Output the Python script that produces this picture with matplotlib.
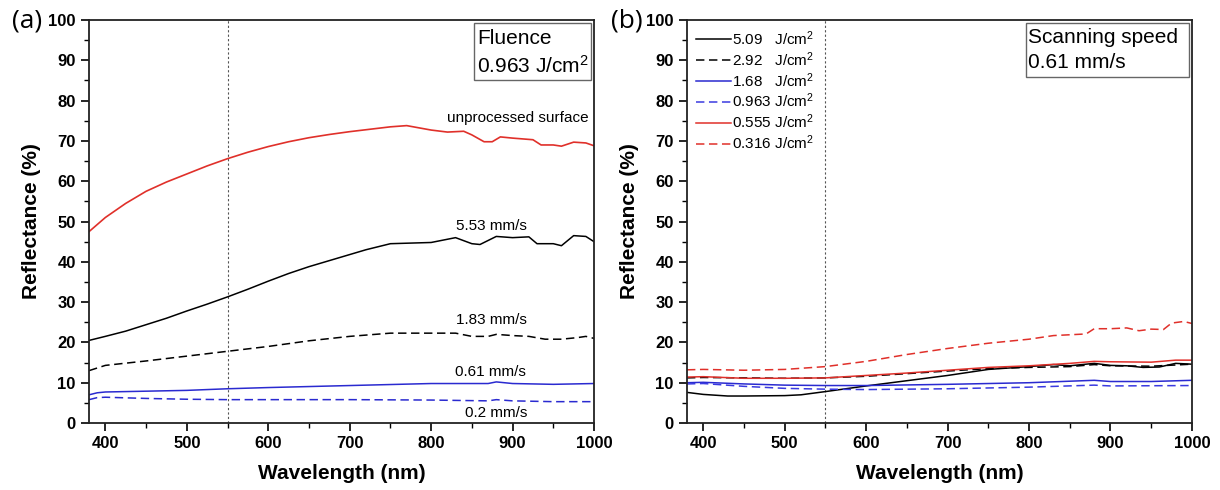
import matplotlib
matplotlib.use("Agg")
import matplotlib.pyplot as plt
from matplotlib.patches import Rectangle
from matplotlib.ticker import MultipleLocator

plt.rcParams["font.family"] = ["Liberation Sans", "DejaVu Sans"]
plt.rcParams["mathtext.default"] = "regular"

RED = "#e0302a"
BLUE = "#2a2ad0"
LBLUE = "#3a3ae0"

# ---- panel (a): fixed fluence 0.963 J/cm2, varying scanning speed ----
wl_unproc = [380, 400, 425, 450, 475, 500, 525, 550, 575, 600, 625, 650, 675, 700, 725,
             750, 770, 800, 820, 840, 850, 865, 875, 885, 900, 925, 935, 950, 960,
             975, 990, 1000]
r_unproc = [47.5, 51, 54.5, 57.5, 59.8, 61.8, 63.8, 65.6, 67.2, 68.6, 69.8, 70.8, 71.6,
            72.3, 72.9, 73.5, 73.8, 72.7, 72.2, 72.4, 71.5, 69.8, 69.8, 71, 70.7, 70.3,
            69, 69, 68.7, 69.7, 69.5, 68.8]

wl_553 = [380, 400, 425, 450, 475, 500, 525, 550, 575, 600, 625, 650, 675, 700, 720,
          750, 800, 830, 850, 860, 880, 900, 920, 930, 950, 960, 975, 990, 1000]
r_553 = [20.5, 21.5, 22.8, 24.4, 26, 27.8, 29.5, 31.3, 33.2, 35.2, 37.1, 38.8, 40.3,
         41.8, 43, 44.5, 44.8, 46, 44.5, 44.3, 46.3, 46, 46.2, 44.5, 44.5, 44, 46.5,
         46.3, 45]

wl_183 = [380, 400, 450, 500, 550, 600, 650, 700, 750, 800, 830, 850, 870, 880,
          900, 920, 940, 960, 980, 990, 1000]
r_183 = [13, 14.3, 15.4, 16.6, 17.8, 19, 20.4, 21.5, 22.3, 22.3, 22.3, 21.5, 21.5, 22,
         21.7, 21.5, 20.8, 20.8, 21.2, 21.5, 21]

wl_061 = [380, 390, 400, 500, 550, 600, 700, 800, 870, 880, 900, 950, 1000]
r_061 = [7, 7.5, 7.7, 8.1, 8.5, 8.8, 9.3, 9.8, 9.8, 10.2, 9.8, 9.6, 9.8]

wl_02 = [380, 390, 400, 450, 500, 550, 600, 700, 800, 870, 880, 900, 950, 1000]
r_02 = [5.8, 6.3, 6.4, 6.1, 5.9, 5.8, 5.8, 5.8, 5.7, 5.5, 5.8, 5.5, 5.3, 5.3]

# ---- panel (b): fixed scanning speed 0.61 mm/s, varying fluence ----
wl_509 = [380, 400, 430, 450, 500, 520, 550, 600, 650, 700, 750, 800, 830, 850,
          880, 900, 920, 940, 960, 980, 1000]
r_509 = [7.6, 7.1, 6.7, 6.7, 6.8, 7.0, 7.8, 9.2, 10.5, 11.8, 13.3, 14.0, 14.5, 14.2,
         14.8, 14.3, 14.2, 13.8, 13.9, 14.8, 14.6]

wl_292 = [380, 400, 450, 500, 550, 600, 700, 750, 800, 850, 880, 900, 950, 1000]
r_292 = [11.2, 11.3, 11.2, 11.1, 11.2, 11.6, 12.9, 13.5, 13.8, 14, 14.5, 14.2, 14.1, 14.6]

wl_168 = [380, 400, 450, 500, 550, 600, 700, 800, 880, 900, 950, 1000]
r_168 = [10, 10.1, 9.7, 9.4, 9.3, 9.3, 9.6, 10, 10.6, 10.3, 10.3, 10.6]

wl_0963 = [380, 400, 450, 500, 550, 600, 700, 800, 880, 900, 1000]
r_0963 = [9.7, 9.8, 9.1, 8.6, 8.4, 8.3, 8.5, 8.9, 9.4, 9.2, 9.3]

wl_0555 = [380, 400, 450, 500, 550, 600, 650, 700, 750, 800, 850, 880, 900, 950, 980, 1000]
r_0555 = [11.4, 11.5, 11.1, 11.1, 11.2, 11.8, 12.4, 13.1, 13.8, 14.2, 14.8, 15.3, 15.2,
          15.1, 15.6, 15.6]

wl_0316 = [380, 400, 450, 500, 550, 600, 650, 700, 750, 800, 830, 870, 880, 900, 920,
           935, 950, 965, 975, 990, 1000]
r_0316 = [13.2, 13.3, 13.1, 13.3, 14.0, 15.3, 17.0, 18.5, 19.8, 20.8, 21.7, 22.1, 23.4,
          23.4, 23.6, 22.9, 23.3, 23.2, 24.8, 25.2, 24.7]

speed_labels = ["unprocessed surface", "5.53 mm/s", "1.83 mm/s", "0.61 mm/s", "0.2 mm/s"]
speed_label_pos = [(906, 75.7), (874, 48.9), (874, 25.6), (873, 12.7), (880, 2.6)]

fluence_labels = ["5.09   J/cm$^2$", "2.92   J/cm$^2$", "1.68   J/cm$^2$",
                  "0.963 J/cm$^2$", "0.555 J/cm$^2$", "0.316 J/cm$^2$"]

DASH = (0, (5.5, 3))


def style_axes(ax):
    ax.set_xlim(380, 1000)
    ax.set_ylim(0, 100)
    ax.xaxis.set_major_locator(MultipleLocator(100))
    ax.xaxis.set_minor_locator(MultipleLocator(50))
    ax.yaxis.set_major_locator(MultipleLocator(10))
    ax.yaxis.set_minor_locator(MultipleLocator(5))
    ax.tick_params(which="major", direction="out", length=6, width=1.2, labelsize=12)
    ax.tick_params(which="minor", direction="out", length=3.5, width=1.0)
    for lab in ax.get_xticklabels() + ax.get_yticklabels():
        lab.set_fontweight("bold")
    for sp in ax.spines.values():
        sp.set_linewidth(1.3)
        sp.set_color("#222222")
    ax.set_xlabel("Wavelength (nm)", fontsize=15, fontweight="bold", labelpad=9)
    ax.set_ylabel("Reflectance (%)", fontsize=15, fontweight="bold", labelpad=5)
    ax.axvline(550, color="#555555", lw=0.8, ls=(0, (2, 2)), zorder=1)


def info_box(ax, x0, y0, x1, y1, lines, tx, ty, size):
    ax.add_patch(Rectangle((x0, y0), x1 - x0, y1 - y0, transform=ax.transAxes,
                           fc="white", ec="#666666", lw=1.0, zorder=4))
    for line, yy in zip(lines, ty):
        ax.text(tx, yy, line, transform=ax.transAxes, fontsize=size,
                ha="left", va="baseline", zorder=5)


fig = plt.figure(figsize=(12.2, 4.9), dpi=100)
ax1 = fig.add_axes([0.0730, 0.1367, 0.4139, 0.8224])
ax2 = fig.add_axes([0.5631, 0.1367, 0.4139, 0.8224])

# panel (a)
ax1.plot(wl_unproc, r_unproc, color=RED, lw=1.2)
ax1.plot(wl_553, r_553, color="black", lw=1.1)
ax1.plot(wl_183, r_183, color="black", lw=1.1, ls=DASH)
ax1.plot(wl_061, r_061, color=BLUE, lw=1.1)
ax1.plot(wl_02, r_02, color=BLUE, lw=1.1, ls=DASH)
for lab, (x, y) in zip(speed_labels, speed_label_pos):
    ax1.text(x, y, lab, fontsize=11, ha="center", va="center")
info_box(ax1, 0.762, 0.851, 0.994, 0.993, ["Fluence", "0.963 J/cm$^2$"],
         0.768, [0.940, 0.8685], 15)
style_axes(ax1)

# panel (b)
series_b = [(wl_509, r_509, "black", "-"), (wl_292, r_292, "black", DASH),
            (wl_168, r_168, BLUE, "-"), (wl_0963, r_0963, LBLUE, DASH),
            (wl_0555, r_0555, RED, "-"), (wl_0316, r_0316, RED, DASH)]
for (wl, r, c, ls), lab in zip(series_b, fluence_labels):
    ax2.plot(wl, r, color=c, lw=1.1, ls=ls, label=lab)
ax2.legend(loc="upper left", frameon=False, fontsize=11, handlelength=2.3,
           handletextpad=0.05, labelspacing=0.15, borderaxespad=0.2,
           bbox_to_anchor=(0.0, 1.0))
info_box(ax2, 0.6705, 0.8578, 0.9933, 0.9933, ["Scanning speed", "0.61 mm/s"],
         0.676, [0.942, 0.880], 15)
style_axes(ax2)

fig.text(0.0095, 0.943, "(a)", fontsize=19, family="Open Sans")
fig.text(0.501, 0.943, "(b)", fontsize=19, family="Open Sans")

fig.savefig("out.png", dpi=100)
